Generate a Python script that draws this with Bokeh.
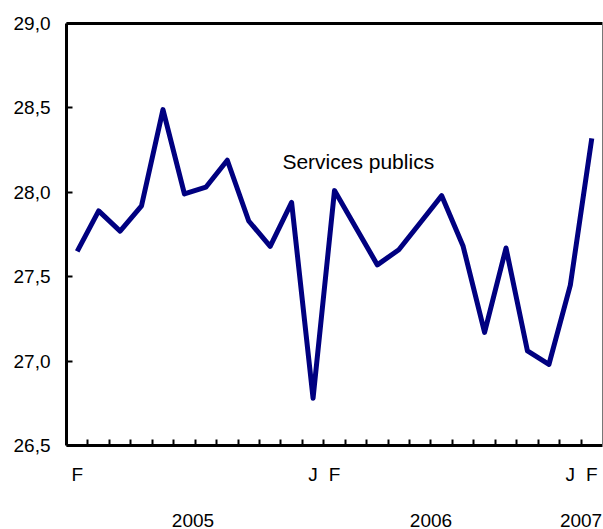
from bokeh.plotting import figure
from bokeh.models import Range1d, FixedTicker, LinearAxis, CustomJSTickFormatter, Label
from bokeh.embed import file_html
from bokeh.resources import INLINE

# ---- data ----
month_initials = ["F", "M", "A", "M", "J", "J", "A", "S", "O", "N", "D",
                  "J", "F", "M", "A", "M", "J", "J", "A", "S", "O", "N", "D",
                  "J", "F"]
month_numbers = [2, 3, 4, 5, 6, 7, 8, 9, 10, 11, 12,
                 1, 2, 3, 4, 5, 6, 7, 8, 9, 10, 11, 12,
                 1, 2]
years = [2005] * 11 + [2006] * 12 + [2007] * 2
values = [27.65, 27.89, 27.77, 27.92, 28.49, 27.99, 28.03, 28.19, 27.83, 27.68,
          27.94, 26.78, 28.01, 27.79, 27.57, 27.66, 27.82, 27.98, 27.68, 27.17,
          27.67, 27.06, 26.98, 27.45, 28.32]
y_ticks = [26.5, 27.0, 27.5, 28.0, 28.5, 29.0]
series_name = "Services publics"
year_names = ["2005", "2006", "2007"]

# ---- layout ----
FONT = "Liberation Sans"
FS = "19px"
TXT = "#000000"
n = len(values)
xs = [i + 0.5 for i in range(n)]

p = figure(width=603, height=529, output_backend="svg", toolbar_location=None,
           x_range=Range1d(0, n), y_range=Range1d(y_ticks[0], y_ticks[-1]),
           x_axis_location=None, y_axis_location=None,
           min_border_left=66, min_border_right=1, min_border_top=23, min_border_bottom=84)
p.outline_line_color = None
p.background_fill_color = "white"
p.border_fill_color = "white"
for g in p.grid:
    g.visible = False

yaxis = LinearAxis(ticker=FixedTicker(ticks=y_ticks),
                   formatter=CustomJSTickFormatter(code="return tick.toFixed(1).replace('.', ',');"),
                   axis_line_width=3, major_tick_in=6, major_tick_out=0, major_tick_line_width=2,
                   minor_tick_line_color=None,
                   major_label_text_font=FONT, major_label_text_font_size=FS,
                   major_label_text_color=TXT,
                   major_label_standoff=16)
p.add_layout(yaxis, "left")

shown = [i for i in range(n) if month_numbers[i] in (1, 2)]
month_ticks = [i + 0.5 for i in shown]
month_labels = [month_initials[i] for i in shown]
boundaries = list(range(1, n))
xaxis = LinearAxis(ticker=FixedTicker(ticks=month_ticks, minor_ticks=boundaries),
                   formatter=CustomJSTickFormatter(args=dict(labels=month_labels),
                                                   code="return labels[index];"),
                   axis_line_width=3, major_tick_line_color=None,
                   minor_tick_in=6, minor_tick_out=0, minor_tick_line_width=2,
                   major_label_text_font=FONT, major_label_text_font_size=FS,
                   major_label_text_color=TXT,
                   major_label_standoff=12)
p.add_layout(xaxis, "below")

year_x = {2005: 5.9, 2006: 17.0, 2007: 24.0}
year_ticks = [year_x[int(y)] for y in year_names]
yearaxis = LinearAxis(ticker=FixedTicker(ticks=year_ticks),
                      formatter=CustomJSTickFormatter(args=dict(labels=year_names),
                                                      code="return labels[index];"),
                      axis_line_color=None, major_tick_line_color=None, minor_tick_line_color=None,
                      major_label_text_font=FONT, major_label_text_font_size=FS,
                      major_label_text_color=TXT,
                      major_label_standoff=20)
p.add_layout(yearaxis, "below")

# frame top (thick) and right (thin) borders
topaxis = LinearAxis(ticker=FixedTicker(ticks=[]), axis_line_width=3, axis_line_color="black",
                     major_tick_line_color=None, minor_tick_line_color=None,
                     major_label_standoff=0, major_tick_out=0, major_tick_in=0)
p.add_layout(topaxis, "above")
rightaxis = LinearAxis(ticker=FixedTicker(ticks=[]), axis_line_width=1, axis_line_color="#777777",
                       major_tick_line_color=None, minor_tick_line_color=None,
                       major_label_standoff=0, major_tick_out=0, major_tick_in=0)
p.add_layout(rightaxis, "right")

p.line(xs, values, line_color="#000080", line_width=5, line_join="round")

p.add_layout(Label(x=10.07, y=28.18, text=series_name, text_font=FONT, text_color=TXT,
                   text_font_size="21px", text_baseline="middle", text_align="left"))

open("out.html", "w").write(file_html(p, INLINE))
